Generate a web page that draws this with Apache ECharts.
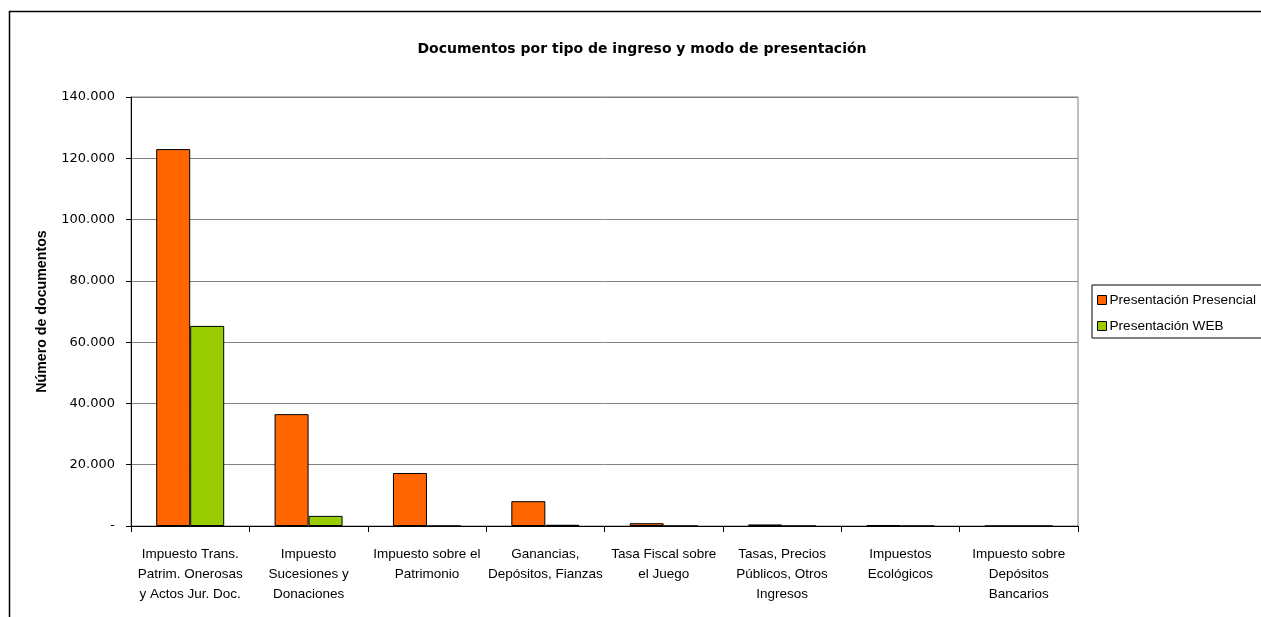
<!DOCTYPE html>
<html><head><meta charset="utf-8">
<script src="https://cdn.jsdelivr.net/npm/echarts@6/dist/echarts.min.js"></script>
<style>html,body{margin:0;padding:0;background:#fff}#c{width:1261px;height:617px}</style>
</head><body><div id="c"></div>
<script>
const categories = [
  "Impuesto Trans.\nPatrim. Onerosas\ny Actos Jur. Doc.",
  "Impuesto\nSucesiones y\nDonaciones",
  "Impuesto sobre el\nPatrimonio",
  "Ganancias,\nDepósitos, Fianzas",
  "Tasa Fiscal sobre\nel Juego",
  "Tasas, Precios\nPúblicos, Otros\nIngresos",
  "Impuestos\nEcológicos",
  "Impuesto sobre\nDepósitos\nBancarios"
];
const presencial = [123000, 36500, 17300, 8100, 900, 500, 250, 0];
const web = [65300, 3300, 0, 400, 0, 0, 0, 0];
const yTicks = {min: 0, max: 140000, interval: 20000};

const FONT = '"Liberation Sans", Arial, sans-serif';
const chart = echarts.init(document.getElementById('c'));
function fmt(v){ if (v === 0) return '-'; return v.toString().replace(/\B(?=(\d{3})+(?!\d))/g, '.'); }
chart.setOption({
  animation: false,
  textStyle: {fontFamily: FONT},
  title: {
    text: 'Documentos por tipo de ingreso y modo de presentación',
    left: 637, top: 37, textAlign: 'center',
    textStyle: {fontSize: 14, fontWeight: 'bold', color: '#000', fontFamily: '"DejaVu Sans", sans-serif'}
  },
  graphic: [{
    type: 'rect', left: 7, top: 9, shape: {width: 1400, height: 800},
    style: {fill: 'none', stroke: '#000', lineWidth: 1.5}, silent: true
  }],
  legend: {
    orient: 'vertical', left: 1092, top: 285,
    itemWidth: 9, itemHeight: 9, itemGap: 12,
    padding: [8, 6, 5, 5],
    borderColor: '#000', borderWidth: 1,
    icon: 'rect',
    textStyle: {fontSize: 13.6, color: '#000', fontFamily: FONT, padding: [0, 0, 0, -2]},
    itemStyle: {borderColor: '#000', borderWidth: 1},
    data: ['Presentación Presencial', 'Presentación WEB']
  },
  grid: {left: 131, right: 183, top: 97, bottom: 91, show: true, borderColor: '#808080', borderWidth: 1},
  xAxis: {
    type: 'category', data: categories,
    axisLine: {lineStyle: {color: '#000', width: 1}},
    axisTick: {show: true, length: 6, lineStyle: {color: '#000'}},
    axisLabel: {color: '#000', fontSize: 13.5, margin: 18, lineHeight: 20, interval: 0}
  },
  yAxis: {
    type: 'value', min: yTicks.min, max: yTicks.max, interval: yTicks.interval,
    name: 'Número de documentos', nameLocation: 'middle', nameGap: 82,
    nameTextStyle: {fontSize: 14.2, fontWeight: 'bold', color: '#000'},
    axisLine: {show: true, lineStyle: {color: '#000'}},
    axisTick: {show: true, length: 5, lineStyle: {color: '#000'}},
    axisLabel: {color: '#000', fontSize: 13, margin: 16, formatter: fmt, fontFamily: '"DejaVu Sans", sans-serif'},
    splitLine: {lineStyle: {color: '#808080', width: 1}}
  },
  series: [
    {name: 'Presentación Presencial', type: 'bar', data: presencial, barWidth: 34, barGap: '0%',
     itemStyle: {color: '#FF6600', borderColor: '#000', borderWidth: 1}},
    {name: 'Presentación WEB', type: 'bar', data: web, barWidth: 34, barGap: '0%',
     itemStyle: {color: '#99CC00', borderColor: '#000', borderWidth: 1}}
  ]
});
</script></body></html>
